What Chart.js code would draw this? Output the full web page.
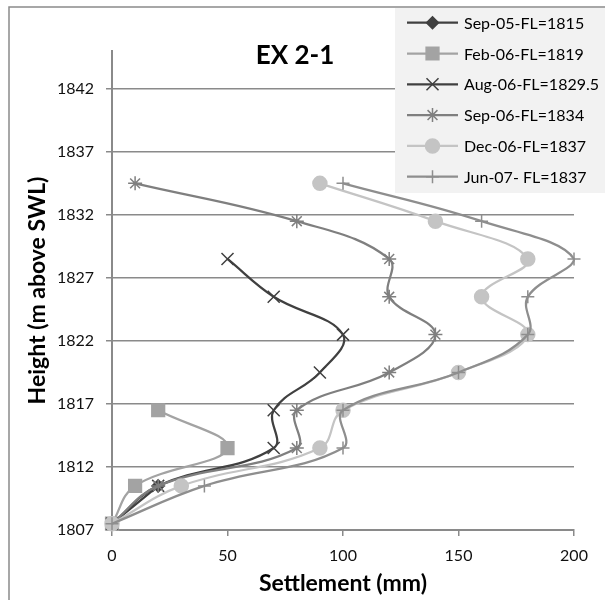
<!DOCTYPE html>
<html>
<head>
<meta charset="utf-8">
<script src="https://cdn.jsdelivr.net/npm/chart.js@4.4.1/dist/chart.umd.min.js"></script>
<style>
html, body { margin: 0; padding: 0; background: #fff; }
#wrap { width: 605px; height: 600px; }
</style>
</head>
<body>
<div id="wrap"><canvas id="chart" width="605" height="600"></canvas></div>
<script>
// heights of the gauges (m above SWL)
const heights = [1807.5, 1810.5, 1813.5, 1816.5, 1819.5, 1822.5, 1825.5, 1828.5, 1831.5, 1834.5];
const seriesNames = ['Sep-05-FL=1815', 'Feb-06-FL=1819', 'Aug-06-FL=1829.5', 'Sep-06-FL=1834', 'Dec-06-FL=1837', 'Jun-07- FL=1837'];
// settlement (mm) per survey
const sep05 = [0, 20];
const feb06 = [0, 10, 50, 20];
const aug06 = [0, 20, 70, 70, 90, 100, 70, 50];
const sep06 = [0, 20, 80, 80, 120, 140, 120, 120, 80, 10];
const dec06 = [0, 30, 90, 100, 150, 180, 160, 180, 140, 90];
const jun07 = [0, 40, 100, 100, 150, 180, 180, 200, 160, 100];
const xTicks = [0, 50, 100, 150, 200];
const yTicks = [1807, 1812, 1817, 1822, 1827, 1832, 1837, 1842];

const allSeries = [sep05, feb06, aug06, sep06, dec06, jun07];
const colors = ['#404040', '#a3a3a3', '#404040', '#7f7f7f', '#c4c4c4', '#8e8e8e'];
const markers = ['rectRot', 'rect', 'crossRot', 'star', 'circle', 'cross'];
const radii = [6, 9, 8.5, 7, 7, 6.5];
const FONT = 'Lato, "Open Sans", sans-serif';
const GRID = '#8a8a8a';

const datasets = allSeries.map((vals, i) => ({
    label: seriesNames[i],
    data: vals.map((v, k) => ({ x: v, y: heights[k] })),
    showLine: true,
    borderColor: colors[i],
    borderWidth: 2.25,
    tension: 0.4,
    fill: false,
    pointStyle: markers[i],
    pointRadius: radii[i],
    pointBackgroundColor: colors[i],
    pointBorderColor: colors[i],
    pointBorderWidth: 1.5,
    order: allSeries.length - i,
    clip: false
}));

// frame, title and legend box
const decor = {
    id: 'decor',
    beforeDraw(chart) {
        const ctx = chart.ctx;
        ctx.save();
        ctx.strokeStyle = '#8a8a8a';
        ctx.lineWidth = 1.5;
        ctx.strokeRect(9, 7, 700, 700);
        ctx.restore();
    },
    afterDraw(chart) {
        const ctx = chart.ctx;
        ctx.save();
        ctx.font = 'bold 26px ' + FONT;
        ctx.fillStyle = '#000';
        ctx.textAlign = 'center';
        ctx.textBaseline = 'middle';
        ctx.fillText('EX 2-1', 295, 56);

        ctx.fillStyle = '#f2f2f2';
        ctx.fillRect(395, 8, 215, 185);
        seriesNames.forEach((name, i) => {
            const y = 22.7 + i * 30.8;
            ctx.strokeStyle = colors[i];
            ctx.fillStyle = colors[i];
            ctx.lineWidth = 2.25;
            ctx.beginPath();
            ctx.moveTo(407, y);
            ctx.lineTo(458, y);
            ctx.stroke();
            ctx.lineWidth = 1.5;
            Chart.helpers.drawPoint(ctx, { pointStyle: markers[i], radius: radii[i], borderWidth: 1.5, rotation: 0 }, 432.5, y);
            ctx.fillStyle = '#000';
            ctx.font = '16px ' + FONT;
            ctx.textAlign = 'left';
            ctx.textBaseline = 'middle';
            ctx.fillText(name, 464, y + 1);
        });
        ctx.restore();
    }
};

new Chart(document.getElementById('chart'), {
    type: 'scatter',
    data: { datasets },
    plugins: [decor],
    options: {
        responsive: false,
        animation: false,
        layout: { padding: { left: 0, top: 51, right: 31, bottom: 0 } },
        plugins: { legend: { display: false }, tooltip: { enabled: false } },
        scales: {
            x: {
                type: 'linear',
                min: 0,
                max: 200,
                afterBuildTicks: s => { s.ticks = xTicks.map(v => ({ value: v })); },
                afterFit: s => { s.height = 70; },
                grid: { drawOnChartArea: false, drawTicks: true, tickLength: 6, color: GRID, lineWidth: 1.5 },
                border: { color: GRID, width: 2 },
                ticks: { font: { family: FONT, size: 16 }, color: '#111', padding: 10, callback: v => String(v) },
                title: { display: true, text: 'Settlement (mm)', font: { family: FONT, size: 23, weight: 'bold' }, color: '#000', padding: 3 }
            },
            y: {
                type: 'linear',
                min: 1807,
                max: 1845,
                afterBuildTicks: s => { s.ticks = yTicks.map(v => ({ value: v })); },
                afterFit: s => { s.width = 112; },
                grid: { drawTicks: true, tickLength: 6, color: GRID, lineWidth: 1.5 },
                border: { color: GRID, width: 2 },
                ticks: { font: { family: FONT, size: 16 }, color: '#111', padding: 12, callback: v => String(v) },
                title: { display: true, text: 'Height (m above SWL)', font: { family: FONT, size: 23, weight: 'bold' }, color: '#000', padding: 24 }
            }
        }
    }
});
</script>
</body>
</html>
